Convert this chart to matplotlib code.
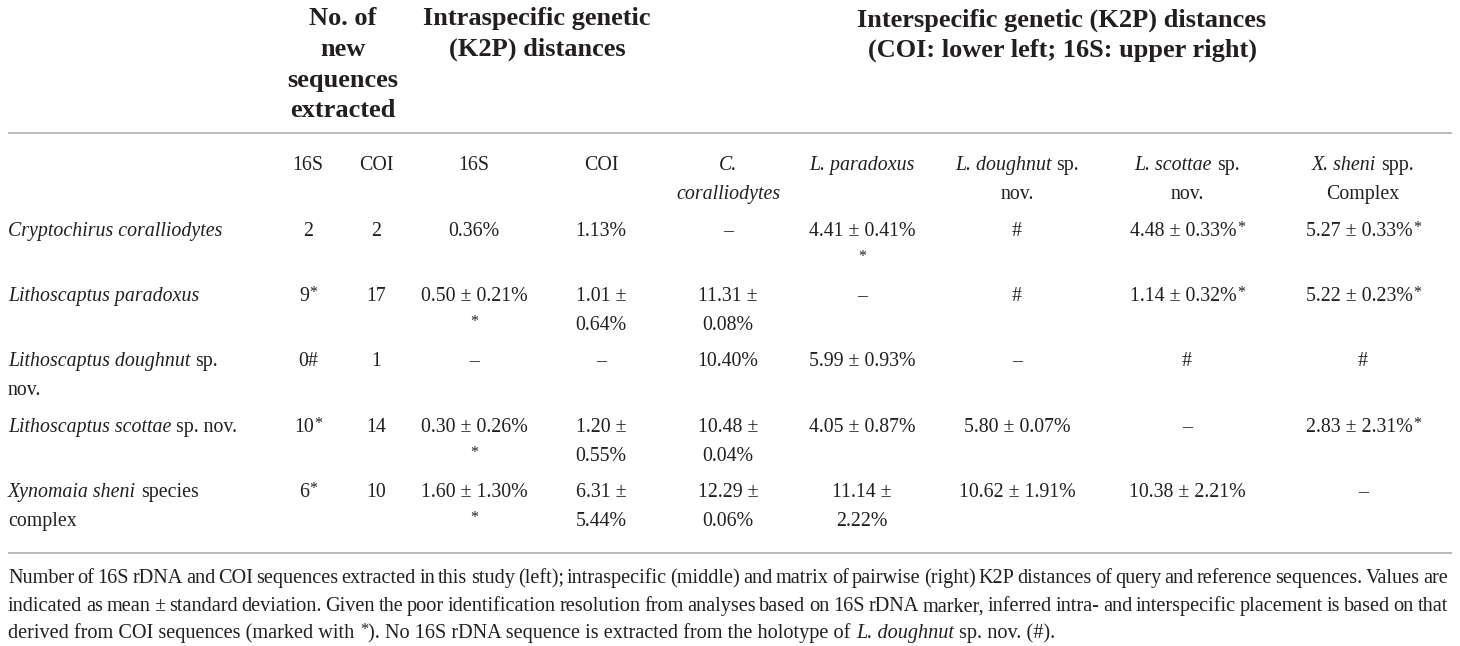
import matplotlib
matplotlib.use("Agg")
import matplotlib.pyplot as plt

# ---------------- data ----------------
group_headers = ["No. of\nnew\nsequences\nextracted",
                 "Intraspecific genetic\n(K2P) distances",
                 "Interspecific genetic (K2P) distances\n(COI: lower left; 16S: upper right)"]
sub_headers = ["16S", "COI", "16S", "COI",
               "_C._\n_coralliodytes_", "_L. paradoxus_", "_L. doughnut_ sp.\nnov.",
               "_L. scottae_ sp.\nnov.", "_X. sheni_ spp.\nComplex"]
species = ["_Cryptochirus coralliodytes_",
           "_Lithoscaptus paradoxus_",
           "_Lithoscaptus doughnut_ sp.\nnov.",
           "_Lithoscaptus scottae_ sp. nov.",
           "_Xynomaia sheni_ species\ncomplex"]
n_16S = ["2", "9*", "0#", "10*", "6*"]
n_COI = ["2", "17", "1", "14", "10"]
intra_16S = ["0.36%", "0.50 ± 0.21%\n*", "–", "0.30 ± 0.26%\n*", "1.60 ± 1.30%\n*"]
intra_COI = ["1.13%", "1.01 ±\n0.64%", "–", "1.20 ±\n0.55%", "6.31 ±\n5.44%"]
d_coralliodytes = ["–", "11.31 ±\n0.08%", "10.40%", "10.48 ±\n0.04%", "12.29 ±\n0.06%"]
d_paradoxus = ["4.41 ± 0.41%\n*", "–", "5.99 ± 0.93%", "4.05 ± 0.87%", "11.14 ±\n2.22%"]
d_doughnut = ["#", "#", "–", "5.80 ± 0.07%", "10.62 ± 1.91%"]
d_scottae = ["4.48 ± 0.33%*", "1.14 ± 0.32%*", "#", "–", "10.38 ± 2.21%"]
d_sheni = ["5.27 ± 0.33%*", "5.22 ± 0.23%*", "#", "2.83 ± 2.31%*", "–"]
caption = ["Number of 16S rDNA and COI sequences extracted in this study (left); intraspecific (middle) and matrix of pairwise (right) K2P distances of query and reference sequences. Values are",
           "indicated as mean ± standard deviation. Given the poor identification resolution from analyses based on 16S rDNA marker, inferred intra- and interspecific placement is based on that",
           "derived from COI sequences (marked with *). No 16S rDNA sequence is extracted from the holotype of _L. doughnut_ sp. nov. (#)."]

# ---------------- layout ----------------
W, H, DPI = 1460, 646, 100
FONT = "Liberation Serif"
COLOR = "#231f20"
fig = plt.figure(figsize=(W / DPI, H / DPI), dpi=DPI)
ax = fig.add_axes([0, 0, 1, 1])
ax.set_xlim(0, W)
ax.set_ylim(H, 0)
ax.axis("off")
renderer = fig.canvas.get_renderer()


def parse(line):
    """Split a marked-up line into segments [text, italic, sup, space_before]."""
    segs, state = [], {"buf": "", "it": False, "trail": False}

    def flush(sup=False):
        buf = state["buf"]
        if buf.strip():
            lead = buf.startswith(" ") or state["trail"]
            segs.append([buf.strip(), state["it"], sup, lead])
            state["trail"] = buf.endswith(" ")
        elif buf:
            state["trail"] = True
        state["buf"] = ""

    for ch in line:
        if ch == "_":
            flush()
            state["it"] = not state["it"]
        elif ch == "*":
            flush()
            state["buf"] = "*"
            flush(sup=True)
        else:
            state["buf"] += ch
    flush()
    return segs


def mk(txt, size, it, weight):
    return ax.text(0, 0, txt, fontsize=size, fontstyle="italic" if it else "normal",
                   fontweight=weight, family=FONT, color=COLOR, va="baseline", ha="left")


def space_w(size, weight):
    a = mk("n n", size, False, weight); b = mk("nn", size, False, weight)
    w = a.get_window_extent(renderer).width - b.get_window_extent(renderer).width
    a.remove(); b.remove()
    return w


def draw_line(line, x, y, size, weight="normal", ha="center", width=None, draw=True):
    segs = parse(line)
    if width is not None:
        # word level, for justified lines
        words = []
        for txt, it, sup, lead in segs:
            for k, wd in enumerate(txt.split(" ")):
                words.append([wd, it, sup, lead if k == 0 else True])
        segs = words
    sp = space_w(size, weight)
    items = []
    for txt, it, sup, lead in segs:
        s = size * 0.8 if sup else size
        t = mk(txt, s, it, weight)
        items.append((t, t.get_window_extent(renderer).width, sup, lead))
    inner = sum(w for _, w, _, _ in items)
    ngap = sum(1 for i, it_ in enumerate(items) if i > 0 and it_[3])
    if width is not None and ngap:
        sp = (width - inner) / ngap
    total = inner + sp * ngap
    x0 = x - total / 2 if ha == "center" else x
    em = size * DPI / 72
    base = y + 0.31 * em
    cx = x0
    for i, (t, w, sup, lead) in enumerate(items):
        if i > 0 and lead:
            cx += sp
        if draw:
            t.set_position((cx + (0.5 if sup else 0), base - (0.2 * em if sup else 0)))
        else:
            t.remove()
        cx += w + (1.0 if sup else 0)
    return total


def draw_cell(markup, x, y, size, lh, weight="normal", ha="center"):
    for i, line in enumerate(markup.split("\n")):
        draw_line(line, x, y + i * lh, size, weight, ha)


def fit(markup, target, weight="normal"):
    w = draw_line(markup, 0, 0, 20, weight, draw=False)
    return 20 * target / w


s_body = fit(species[0], 214)
s_bold = fit(group_headers[2].split("\n")[0], 410, "bold")
s_cap = fit(caption[2], 1047)

# header groups
hdr_x = [343, 537, 1062]
hdr_y = [17, 17, 18]
for txt, x, y in zip(group_headers, hdr_x, hdr_y):
    draw_cell(txt, x, y, s_bold, 30.7, "bold")

# rules
ax.hlines([133, 553], 8, 1452, color="#b4b4b4", lw=1.3)

# sub headers
col_x = [308, 376, 474, 601, 728, 862, 1017, 1187, 1363]
for txt, x in zip(sub_headers, col_x):
    draw_cell(txt, x, 164, s_body, 29)

# body
row_y = [230, 295, 360, 426, 491]
columns = [n_16S, n_COI, intra_16S, intra_COI,
           d_coralliodytes, d_paradoxus, d_doughnut, d_scottae, d_sheni]
for i, y in enumerate(row_y):
    draw_cell(species[i], 8, y, s_body, 29, ha="left")
    for col, x in zip(columns, col_x):
        draw_cell(col[i], x, y, s_body, 29)

# caption (first lines justified)
cap_y = [577, 605, 632]
for i, (line, y) in enumerate(zip(caption, cap_y)):
    if i < len(caption) - 1:
        draw_line(line, 8, y, s_cap, ha="left", width=1440)
    else:
        draw_line(line, 8, y, s_cap, ha="left")

fig.savefig("out.png", dpi=DPI, facecolor="white")
